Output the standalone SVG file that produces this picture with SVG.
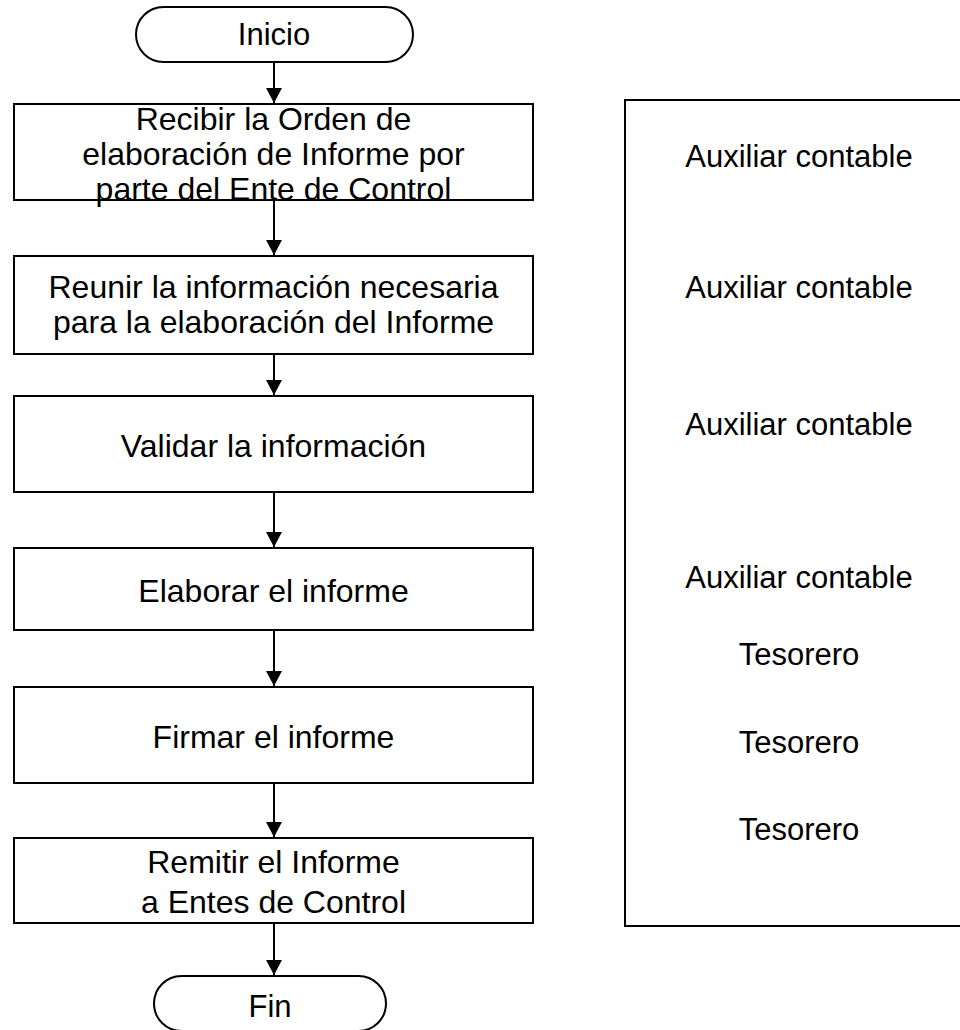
<svg xmlns="http://www.w3.org/2000/svg" width="960" height="1030" viewBox="0 0 960 1030">
<style>
.shape{fill:#fff;stroke:#000;stroke-width:2}
.t{font-family:"Liberation Sans",Arial,sans-serif;font-size:31px;fill:#000;text-anchor:middle}
.b{font-size:32px}
.conn{stroke:#000;stroke-width:2;fill:none}
</style>
<defs>
<marker id="arr" markerWidth="16" markerHeight="16" refX="15" refY="8" orient="auto" markerUnits="userSpaceOnUse">
<path d="M0,0 L15,8 L0,16 Z" fill="#000"/>
</marker>
</defs>
<rect width="960" height="1030" fill="#fff"/>
<g id="roles">
<rect class="shape" x="625" y="100" width="345" height="826"/>
<text class="t" x="799" y="167">Auxiliar contable</text>
<text class="t" x="799" y="298">Auxiliar contable</text>
<text class="t" x="799" y="435">Auxiliar contable</text>
<text class="t" x="799" y="588">Auxiliar contable</text>
<text class="t" x="799" y="665">Tesorero</text>
<text class="t" x="799" y="753">Tesorero</text>
<text class="t" x="799" y="840">Tesorero</text>
</g>
<g id="inicio">
<rect class="shape" x="136" y="7" width="277" height="55" rx="27.5"/>
<text class="t" x="274" y="45">Inicio</text>
</g>
<g id="step1">
<rect class="shape" x="14" y="104" width="519" height="96"/>
<text class="t b" x="273.5" y="130">Recibir la Orden de</text>
<text class="t b" x="273.5" y="165">elaboración de Informe por</text>
<text class="t b" x="273.5" y="200">parte del Ente de Control</text>
</g>
<g id="step2">
<rect class="shape" x="14" y="256" width="519" height="98"/>
<text class="t b" x="273.5" y="298">Reunir la información necesaria</text>
<text class="t b" x="273.5" y="333">para la elaboración del Informe</text>
</g>
<g id="step3">
<rect class="shape" x="14" y="396" width="519" height="96"/>
<text class="t b" x="273.5" y="457">Validar la información</text>
</g>
<g id="step4">
<rect class="shape" x="14" y="548" width="519" height="82"/>
<text class="t b" x="273.5" y="602">Elaborar el informe</text>
</g>
<g id="step5">
<rect class="shape" x="14" y="687" width="519" height="96"/>
<text class="t b" x="273.5" y="748">Firmar el informe</text>
</g>
<g id="step6">
<rect class="shape" x="14" y="838" width="519" height="85"/>
<text class="t b" x="273.5" y="873">Remitir el Informe</text>
<text class="t b" x="273.5" y="913">a Entes de Control</text>
</g>
<g id="fin">
<rect class="shape" x="154" y="976" width="232" height="55" rx="27.5"/>
<text class="t" x="270" y="1017">Fin</text>
</g>
<g id="connectors">
<line class="conn" x1="274" y1="62" x2="274" y2="103" marker-end="url(#arr)"/>
<line class="conn" x1="274" y1="200" x2="274" y2="255" marker-end="url(#arr)"/>
<line class="conn" x1="274" y1="354" x2="274" y2="395" marker-end="url(#arr)"/>
<line class="conn" x1="274" y1="492" x2="274" y2="547" marker-end="url(#arr)"/>
<line class="conn" x1="274" y1="630" x2="274" y2="686" marker-end="url(#arr)"/>
<line class="conn" x1="274" y1="783" x2="274" y2="837" marker-end="url(#arr)"/>
<line class="conn" x1="274" y1="923" x2="274" y2="975" marker-end="url(#arr)"/>
</g>
</svg>
